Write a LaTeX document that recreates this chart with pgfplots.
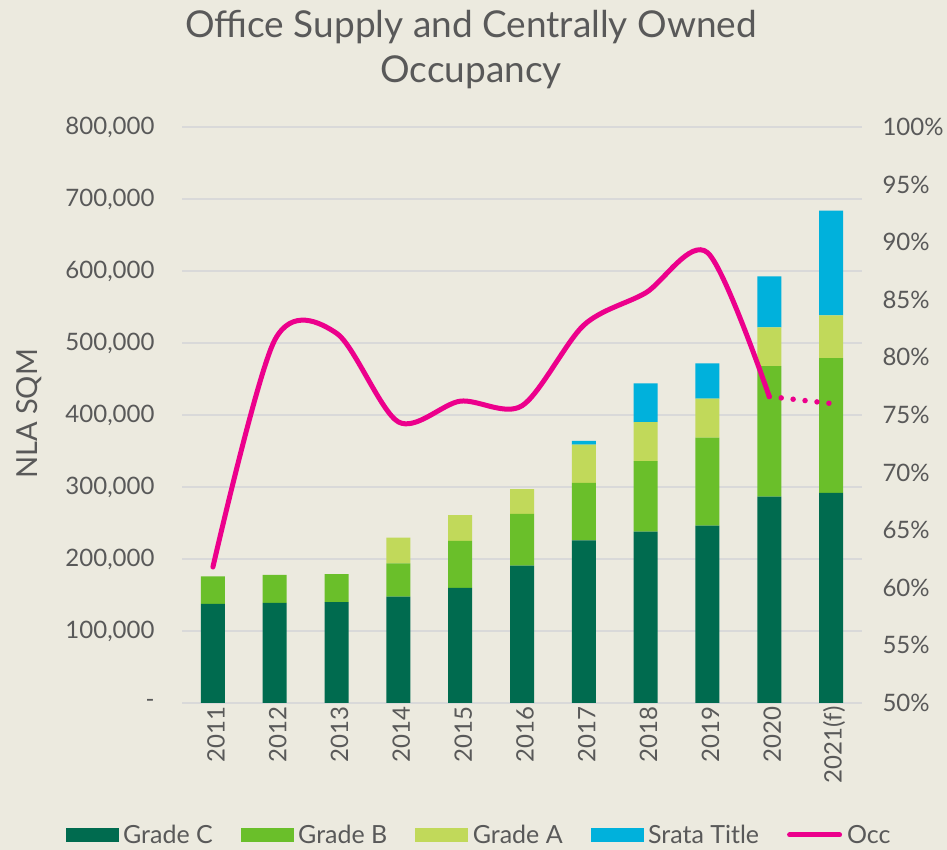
\documentclass[border=0pt]{standalone}
\usepackage{pgfplots}
\pgfplotsset{compat=1.18}
\usepackage{fontspec}
\setmainfont{Lato}
\definecolor{bg}{HTML}{ECEADF}
\definecolor{txt}{HTML}{595959}
\definecolor{gridc}{HTML}{D9D9D9}
\definecolor{gC}{HTML}{006B4F}
\definecolor{gB}{HTML}{6ABF2A}
\definecolor{gA}{HTML}{C1D95A}
\definecolor{st}{HTML}{00B1DC}
\definecolor{occ}{HTML}{EC008C}
\begin{document}
\begin{tikzpicture}
\fill[bg] (0pt,0pt) rectangle (947pt,850pt);
\node[align=center, text=txt, font=\fontsize{37}{45}\selectfont] at (471pt,800pt) {Office Supply and Centrally Owned\\Occupancy};
\node[rotate=90, text=txt, font=\fontsize{29}{32}\selectfont] at (29pt,436pt) {NLA SQM};
\begin{axis}[
  at={(182pt,147pt)}, anchor=south west,
  scale only axis, width=680pt, height=576pt,
  xmin=-0.5, xmax=10.5, ymin=0, ymax=800000,
  ybar stacked, bar width=24pt,
  xtick={0,...,10},
  xticklabels={2011,2012,2013,2014,2015,2016,2017,2018,2019,2020,2021(f)},
  xticklabel style={rotate=90, anchor=east, text=txt, font=\fontsize{24}{26}\selectfont, yshift=-3pt},
  ytick={0,100000,200000,300000,400000,500000,600000,700000,800000},
  yticklabels={-,{100,000},{200,000},{300,000},{400,000},{500,000},{600,000},{700,000},{800,000}},
  yticklabel style={text=txt, font=\fontsize{24}{26}\selectfont, xshift=-24pt},
  scaled y ticks=false,
  ymajorgrids, grid style={draw=gridc, line width=1.5pt},
  axis line style={draw=none}, major tick length=0pt,
  clip=false,
]
\addplot+[fill=gC, draw=none] coordinates {(0,137500) (1,139000) (2,140000) (3,147700) (4,160000) (5,190700) (6,226000) (7,237900) (8,246300) (9,286500) (10,292000)};
\addplot+[fill=gB, draw=none] coordinates {(0,38500) (1,39000) (2,39000) (3,46300) (4,65000) (5,71800) (6,79600) (7,98100) (8,122200) (9,181500) (10,187000)};
\addplot+[fill=gA, draw=none] coordinates {(0,0) (1,0) (2,0) (3,35600) (4,36000) (5,34500) (6,53200) (7,54000) (8,54100) (9,53800) (10,59500)};
\addplot+[fill=st, draw=none] coordinates {(0,0) (1,0) (2,0) (3,0) (4,0) (5,0) (6,5200) (7,54000) (8,49200) (9,70800) (10,145300)};
\end{axis}
\begin{axis}[
  at={(182pt,147pt)}, anchor=south west,
  scale only axis, width=680pt, height=576pt,
  xmin=-0.5, xmax=10.5, ymin=0.5, ymax=1.0,
  axis x line=none, axis y line*=right,
  ytick={0.5,0.55,0.6,0.65,0.7,0.75,0.8,0.85,0.9,0.95,1.0},
  yticklabels={50\%,55\%,60\%,65\%,70\%,75\%,80\%,85\%,90\%,95\%,100\%},
  yticklabel style={text=txt, font=\fontsize{24}{26}\selectfont, xshift=17pt},
  axis line style={draw=none}, major tick length=0pt,
  clip=false,
  legend style={at={(0.437,-0.229)}, anchor=center, legend columns=5, draw=none, fill=none,
    text=txt, font=\fontsize{25}{28}\selectfont,
    /tikz/every even column/.append style={column sep=26pt},
    /tikz/every odd column/.append style={column sep=3pt}},
  legend cell align=left,
]
\addlegendimage{area legend, legend image code/.code={\fill[gC] (0pt,-6.5pt) rectangle (52pt,6.5pt);}}
\addlegendentry{Grade C}
\addlegendimage{area legend, legend image code/.code={\fill[gB] (0pt,-6.5pt) rectangle (52pt,6.5pt);}}
\addlegendentry{Grade B}
\addlegendimage{area legend, legend image code/.code={\fill[gA] (0pt,-6.5pt) rectangle (52pt,6.5pt);}}
\addlegendentry{Grade A}
\addlegendimage{area legend, legend image code/.code={\fill[st] (0pt,-6.5pt) rectangle (52pt,6.5pt);}}
\addlegendentry{Srata Title}
\addlegendimage{legend image code/.code={\draw[occ, line width=5pt, line cap=round] (2pt,0pt) -- (52pt,0pt);}}
\addlegendentry{Occ}
\addplot[occ, line width=5pt, smooth, line cap=round, forget plot] coordinates {(0,0.618) (1,0.815) (2,0.821) (3,0.744) (4,0.762) (5,0.758) (6,0.828) (7,0.856) (8,0.891) (9,0.766)};
\addplot[occ, line width=5.5pt, line cap=round, dash pattern=on 0pt off 12pt, forget plot] coordinates {(9,0.766) (10,0.760)};
\end{axis}
\end{tikzpicture}
\end{document}
